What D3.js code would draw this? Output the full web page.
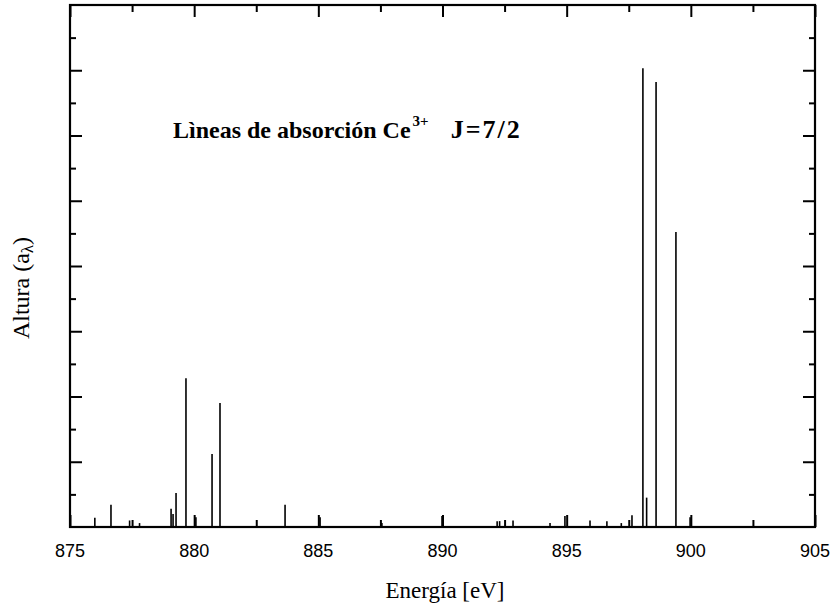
<!DOCTYPE html>
<html><head><meta charset="utf-8">
<script src="https://cdn.jsdelivr.net/npm/d3@7"></script>
<style>body{margin:0;background:#fff}</style>
</head><body>
<svg id="c" width="837" height="607"></svg>
<script>
// energies (eV) and heights (arbitrary units) of absorption lines
const energies = [876.0, 876.65, 877.4, 877.8, 879.07, 879.15, 879.27, 879.67, 880.07, 880.72, 881.04,
  883.66, 885.07, 887.56, 889.98, 892.2, 892.3, 892.84, 894.33, 894.93, 895.94, 896.62,
  897.2, 897.63, 898.07, 898.22, 898.6, 899.4, 899.97];
const heights = [0.14, 0.34, 0.10, 0.06, 0.28, 0.20, 0.52, 2.28, 0.15, 1.12, 1.90,
  0.34, 0.15, 0.06, 0.17, 0.09, 0.09, 0.10, 0.06, 0.17, 0.10, 0.09,
  0.06, 0.18, 7.03, 0.45, 6.82, 4.52, 0.15];
const xTicks = [875, 880, 885, 890, 895, 900, 905];
const xMinor = [877.5, 882.5, 887.5, 892.5, 897.5, 902.5];
const yMajor = [1, 2, 3, 4, 5, 6, 7];
const yMinor = [0.5, 1.5, 2.5, 3.5, 4.5, 5.5, 6.5, 7.5];

const svg = d3.select('#c');
const L = 70, R = 815, T = 5, B = 527;
const x = d3.scaleLinear().domain([875, 905]).range([L, R]);
const y = d3.scaleLinear().domain([0, 8]).range([B, T]);

// lines
svg.append('g').selectAll('line').data(energies).join('line')
  .attr('x1', d => x(d)).attr('x2', d => x(d))
  .attr('y1', y(0)).attr('y2', (d, i) => y(heights[i]))
  .attr('stroke', '#000').attr('stroke-width', 1.6);

// axes with inward ticks
function ax(gen, tr) {
  const g = svg.append('g').attr('transform', tr).call(gen);
  g.select('.domain').remove();
  g.selectAll('text').remove();
  g.selectAll('line').attr('stroke', '#000').attr('stroke-width', 2);
  return g;
}
ax(d3.axisBottom(x).tickValues(xTicks).tickSize(-12), `translate(0,${B})`);
ax(d3.axisBottom(x).tickValues(xMinor).tickSize(-7), `translate(0,${B})`);
ax(d3.axisTop(x).tickValues(xTicks).tickSize(-12), `translate(0,${T})`);
ax(d3.axisTop(x).tickValues(xMinor).tickSize(-7), `translate(0,${T})`);
ax(d3.axisLeft(y).tickValues(yMajor).tickSize(-12), `translate(${L},0)`);
ax(d3.axisLeft(y).tickValues(yMinor).tickSize(-6), `translate(${L},0)`);
ax(d3.axisRight(y).tickValues(yMajor).tickSize(-12), `translate(${R},0)`);
ax(d3.axisRight(y).tickValues(yMinor).tickSize(-6), `translate(${R},0)`);

// frame
svg.append('rect').attr('x', L).attr('y', T).attr('width', R - L).attr('height', B - T)
  .attr('fill', 'none').attr('stroke', '#000').attr('stroke-width', 2.2);

// tick labels
svg.append('g').selectAll('text').data(xTicks).join('text')
  .attr('x', d => x(d)).attr('y', 557).attr('text-anchor', 'middle')
  .attr('font-family', 'Liberation Sans, Arial, sans-serif').attr('font-size', 18)
  .text(d => d);

// axis titles
svg.append('text').attr('x', 445).attr('y', 598).attr('text-anchor', 'middle')
  .attr('font-family', 'Liberation Serif, Times New Roman, serif').attr('font-size', 23)
  .text('Energía [eV]');
const yl = svg.append('text').attr('transform', 'translate(29,288) rotate(-90)').attr('text-anchor', 'middle')
  .attr('font-family', 'Liberation Serif, Times New Roman, serif').attr('font-size', 24);
yl.append('tspan').text('Altura (a');
yl.append('tspan').attr('baseline-shift', '-25%').attr('font-size', 17).text('λ');
yl.append('tspan').text(')');

// title
const t = svg.append('text').attr('x', 173).attr('y', 138)
  .attr('font-family', 'Liberation Serif, Times New Roman, serif').attr('font-size', 24).attr('font-weight', 'bold');
t.append('tspan').text('Lìneas de absorción Ce');
t.append('tspan').attr('dy', -12).attr('dx', 2).attr('font-size', 15).text('3+');
t.append('tspan').attr('dy', 12).attr('dx', 22).attr('font-size', 26).attr('letter-spacing', 2).text('J=7/2');
</script>
</body></html>
